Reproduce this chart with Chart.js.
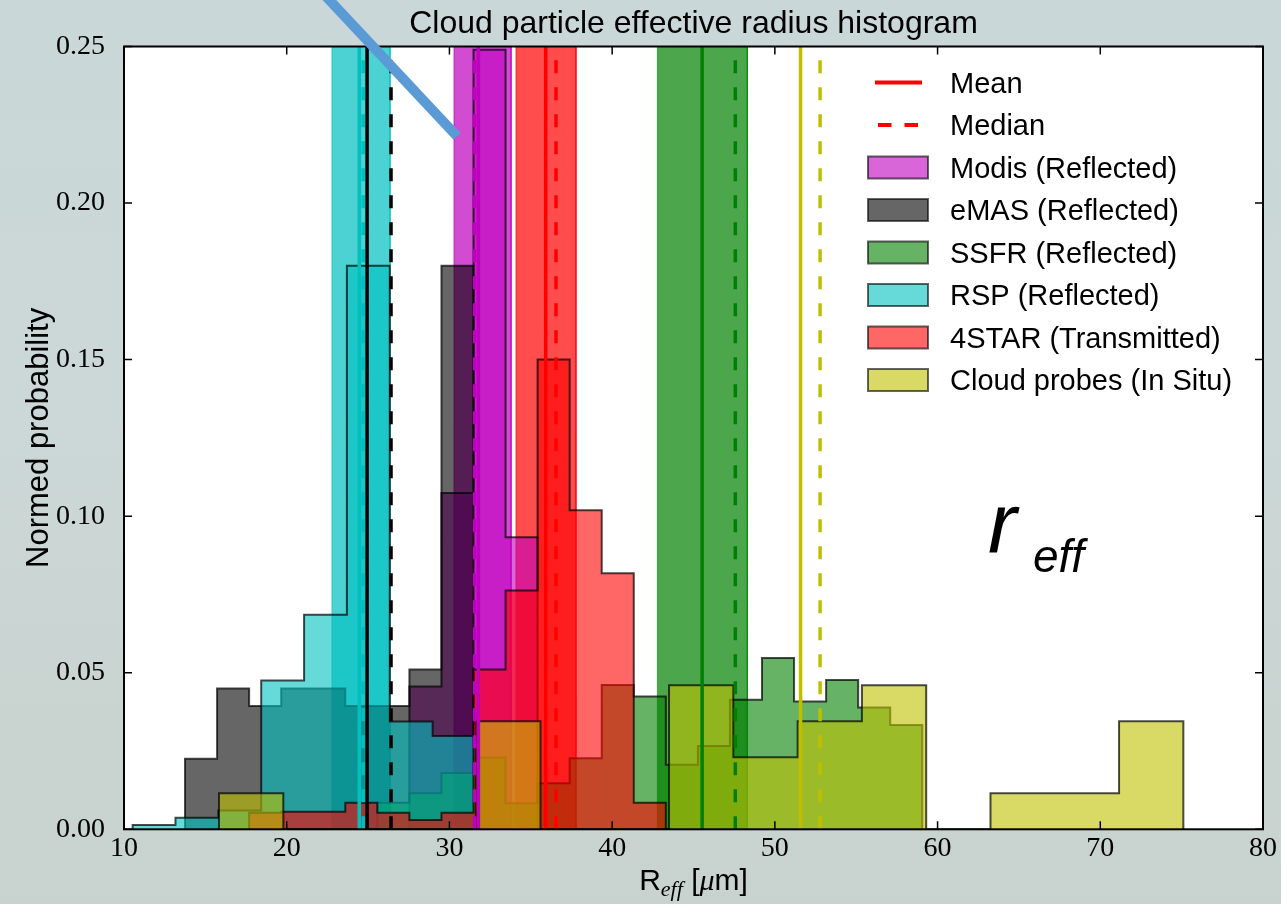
<!DOCTYPE html>
<html lang="en">
<head>
<meta charset="UTF-8">
<title>Cloud particle effective radius histogram</title>
<script src="https://cdn.jsdelivr.net/npm/chart.js@4.4.1/dist/chart.umd.min.js"></script>
<style>
    * {
        margin: 0;
        padding: 0;
        box-sizing: border-box;
    }

    body {
        width: 1281px;
        height: 904px;
        overflow: hidden;
        background: linear-gradient(180deg, #cad7d8 0%, #ccd8d7 45%, #c8d2ce 100%);
    }

    canvas {
        display: block;
    }
</style>
</head>
<body>
<canvas id="hist" width="1281" height="904"></canvas>

<script>
    // Axis ticks
    const xTicks = [10, 20, 30, 40, 50, 60, 70, 80];
    const yTicks = [0, 0.05, 0.10, 0.15, 0.20, 0.25];

    // Instruments, in plotting order
    const seriesNames = ['Modis (Reflected)', 'eMAS (Reflected)', 'SSFR (Reflected)',
                         'RSP (Reflected)', '4STAR (Transmitted)', 'Cloud probes (In Situ)'];
    const seriesColors = ['191,0,191', '0,0,0', '0,128,0', '0,191,191', '255,0,0', '191,191,0'];

    // Histogram bins: left edge of first bin and bin width (um)
    const binStart = [27.54, 13.75, 25.57, 10.53, 17.69, 15.84];
    const binWidth = [1.97, 1.97, 1.97, 2.634, 1.97, 3.951];

    // Normed probability per bin
    const modisDensity = [0.0456, 0.1074, 0.249, 0.0933];
    const emasDensity = [0.0225, 0.045, 0.0394, 0.045, 0.045, 0.0394, 0.0394, 0.051, 0.18];
    const ssfrDensity = [0.0085, 0.0115, 0.018, 0.0229, 0.0083, 0.0147, 0.0227, 0.0461, 0.0424,
                         0.0206, 0.0266, 0.0414, 0.0547, 0.0408, 0.0477, 0.0389, 0.0333];
    const rspDensity = [0.0014, 0.0037, 0.006, 0.0475, 0.0685, 0.18, 0.0344, 0.0298];
    const starDensity = [0.0053, 0.0056, 0.0056, 0.0085, 0.0053, 0.003, 0.0053, 0.051, 0.0763,
                         0.15, 0.1019, 0.0818, 0.0085];
    const probeDensity = [0.0115, 0, 0, 0, 0.0345, 0, 0, 0.046, 0.023, 0.0345, 0.046, 0,
                          0.0115, 0.0115, 0.0345];
    const densities = [modisDensity, emasDensity, ssfrDensity, rspDensity, starDensity, probeDensity];

    // Statistics (um)
    const meanRadius = [31.78, 24.94, 45.53, 24.46, 35.92, 51.58];
    const medianRadius = [31.55, 26.41, 47.57, 24.70, 36.55, 52.78];
    const spreadLow = [30.28, null, 42.78, 22.78, 34.09, null];
    const spreadHigh = [33.79, null, 48.31, 26.35, 37.78, null];

    // Pointer drawn across the top of the plot (data units)
    const pointerFrom = [22.0, 0.2683];
    const pointerTo = [30.47, 0.2213];

    const rgba = (c, a) => `rgba(${c},${a})`;
    const Y_TOP = yTicks[yTicks.length - 1];

    function stepOutline(start, width, heights) {
        const pts = [{ x: start, y: 0 }];
        heights.forEach((h, i) => {
            pts.push({ x: start + i * width, y: h });
            pts.push({ x: start + (i + 1) * width, y: h });
        });
        pts.push({ x: start + heights.length * width, y: 0 });
        return pts;
    }

    const datasets = [];

    // shaded spread bands, underneath everything
    seriesColors.forEach((c, i) => {
        if (spreadLow[i] === null) return;
        datasets.push({
            data: [
                { x: spreadLow[i], y: 0 }, { x: spreadLow[i], y: Y_TOP },
                { x: spreadHigh[i], y: Y_TOP }, { x: spreadHigh[i], y: 0 }
            ],
            backgroundColor: rgba(c, 0.7),
            borderColor: rgba(c, 0.7),
            borderWidth: 1,
            fill: 'origin',
            order: 20
        });
    });

    // step-filled histograms
    seriesColors.forEach((c, i) => {
        datasets.push({
            label: seriesNames[i],
            data: stepOutline(binStart[i], binWidth[i], densities[i]),
            backgroundColor: rgba(c, 0.6),
            borderColor: 'rgba(0,0,0,0.7)',
            borderWidth: 2,
            fill: 'origin',
            order: 10 - i
        });
    });

    // mean (solid) and median (dashed) markers
    seriesColors.forEach((c, i) => {
        datasets.push({
            data: [{ x: meanRadius[i], y: 0 }, { x: meanRadius[i], y: Y_TOP }],
            borderColor: rgba(c, 1),
            borderWidth: 3.5,
            fill: false,
            order: 0
        });
        datasets.push({
            data: [{ x: medianRadius[i], y: 0 }, { x: medianRadius[i], y: Y_TOP }],
            borderColor: rgba(c, 1),
            borderWidth: 3.5,
            borderDash: [13, 14],
            fill: false,
            order: 0
        });
    });

    const plotDecor = {
        id: 'plotDecor',
        beforeDraw(chart) {
            const { ctx, chartArea: a } = chart;
            ctx.save();
            ctx.fillStyle = '#fff';
            ctx.fillRect(a.left, a.top, a.width, a.height);
            ctx.restore();
        },
        afterDatasetsDraw(chart) {
            const { ctx, chartArea: a, scales: { x, y } } = chart;
            ctx.save();
            // inward ticks on all four sides
            ctx.strokeStyle = '#000';
            ctx.lineWidth = 1.5;
            ctx.beginPath();
            xTicks.forEach(v => {
                const px = x.getPixelForValue(v);
                ctx.moveTo(px, a.bottom); ctx.lineTo(px, a.bottom - 8);
                ctx.moveTo(px, a.top); ctx.lineTo(px, a.top + 8);
            });
            yTicks.forEach(v => {
                const py = y.getPixelForValue(v);
                ctx.moveTo(a.left, py); ctx.lineTo(a.left + 8, py);
                ctx.moveTo(a.right, py); ctx.lineTo(a.right - 8, py);
            });
            ctx.stroke();
            ctx.lineWidth = 2;
            ctx.strokeRect(a.left, a.top, a.width, a.height);
            ctx.restore();
        },
        afterDraw(chart) {
            const { ctx, chartArea: a, scales: { x, y } } = chart;
            const midX = (a.left + a.right) / 2;
            ctx.save();
            ctx.fillStyle = '#000';

            // title
            ctx.font = '32px "Liberation Sans"';
            ctx.textAlign = 'center';
            ctx.textBaseline = 'alphabetic';
            ctx.fillText('Cloud particle effective radius histogram', midX, 33);

            // y label
            ctx.save();
            ctx.translate(48, (a.top + a.bottom) / 2);
            ctx.rotate(-Math.PI / 2);
            ctx.font = '31px "Liberation Sans"';
            ctx.fillText('Normed probability', 0, 0);
            ctx.restore();

            // x label: R_eff [um]
            const parts = [
                { t: 'R', f: '30px "Liberation Sans"', dy: 0 },
                { t: 'eff', f: 'italic 22px "Liberation Serif"', dy: 6 },
                { t: ' [', f: '30px "Liberation Sans"', dy: 0 },
                { t: '\u03bc', f: 'italic 30px "Liberation Serif"', dy: 0 },
                { t: 'm]', f: '30px "Liberation Sans"', dy: 0 }
            ];
            let total = 0;
            parts.forEach(p => { ctx.font = p.f; p.w = ctx.measureText(p.t).width; total += p.w; });
            let cx = midX - total / 2;
            ctx.textAlign = 'left';
            parts.forEach(p => {
                ctx.font = p.f;
                ctx.fillText(p.t, cx, 890 + p.dy);
                cx += p.w;
            });

            // legend
            const rowY = k => 82.5 + k * 42.5;
            ctx.font = '29px "Liberation Sans"';
            ctx.strokeStyle = 'rgb(255,0,0)';
            ctx.lineWidth = 4;
            ctx.beginPath();
            ctx.moveTo(875, rowY(0)); ctx.lineTo(922, rowY(0));
            ctx.stroke();
            ctx.setLineDash([13.5, 13]);
            ctx.beginPath();
            ctx.moveTo(878, rowY(1)); ctx.lineTo(919, rowY(1));
            ctx.stroke();
            ctx.setLineDash([]);
            ctx.fillText('Mean', 950, rowY(0) + 10);
            ctx.fillText('Median', 950, rowY(1) + 10);
            seriesNames.forEach((name, i) => {
                const cy = rowY(i + 2);
                ctx.fillStyle = rgba(seriesColors[i], 0.6);
                ctx.fillRect(868, cy - 11, 60, 22);
                ctx.strokeStyle = 'rgba(0,0,0,0.6)';
                ctx.lineWidth = 2;
                ctx.strokeRect(868, cy - 11, 60, 22);
                ctx.fillStyle = '#000';
                ctx.fillText(name, 950, cy + 10);
            });

            // r_eff annotation
            ctx.font = 'italic 86px "Liberation Sans"';
            ctx.fillText('r', 988, 553);
            ctx.font = 'italic 46px "Liberation Sans"';
            ctx.fillText('eff', 1033, 572);

            // pointer line
            ctx.strokeStyle = '#5b9bd5';
            ctx.lineWidth = 10;
            ctx.lineCap = 'butt';
            ctx.beginPath();
            ctx.moveTo(x.getPixelForValue(pointerFrom[0]), y.getPixelForValue(pointerFrom[1]));
            ctx.lineTo(x.getPixelForValue(pointerTo[0]), y.getPixelForValue(pointerTo[1]));
            ctx.stroke();
            ctx.restore();
        }
    };

    new Chart(document.getElementById('hist').getContext('2d'), {
        type: 'scatter',
        data: { datasets },
        options: {
            responsive: false,
            animation: false,
            devicePixelRatio: 1,
            events: [],
            showLine: true,
            clip: 0,
            elements: {
                point: { radius: 0 },
                line: { tension: 0 }
            },
            layout: { padding: { left: 0, right: 18, top: 46.5, bottom: 0 } },
            scales: {
                x: {
                    type: 'linear',
                    min: xTicks[0],
                    max: xTicks[xTicks.length - 1],
                    afterBuildTicks: s => { s.ticks = xTicks.map(v => ({ value: v })); },
                    afterFit: s => { s.height = 904 - 829.3; },
                    grid: { display: false },
                    border: { display: false },
                    ticks: {
                        color: '#000',
                        padding: -5,
                        maxRotation: 0,
                        font: { family: 'Liberation Serif', size: 28 },
                        callback: v => String(v)
                    }
                },
                y: {
                    type: 'linear',
                    min: 0,
                    max: Y_TOP,
                    afterBuildTicks: s => { s.ticks = yTicks.map(v => ({ value: v })); },
                    afterFit: s => { s.width = 124; },
                    grid: { display: false },
                    border: { display: false },
                    ticks: {
                        color: '#000',
                        padding: 11,
                        font: { family: 'Liberation Serif', size: 28 },
                        callback: v => v.toFixed(2)
                    }
                }
            },
            plugins: {
                legend: { display: false },
                tooltip: { enabled: false }
            }
        },
        plugins: [plotDecor]
    });
</script>
</body>
</html>
